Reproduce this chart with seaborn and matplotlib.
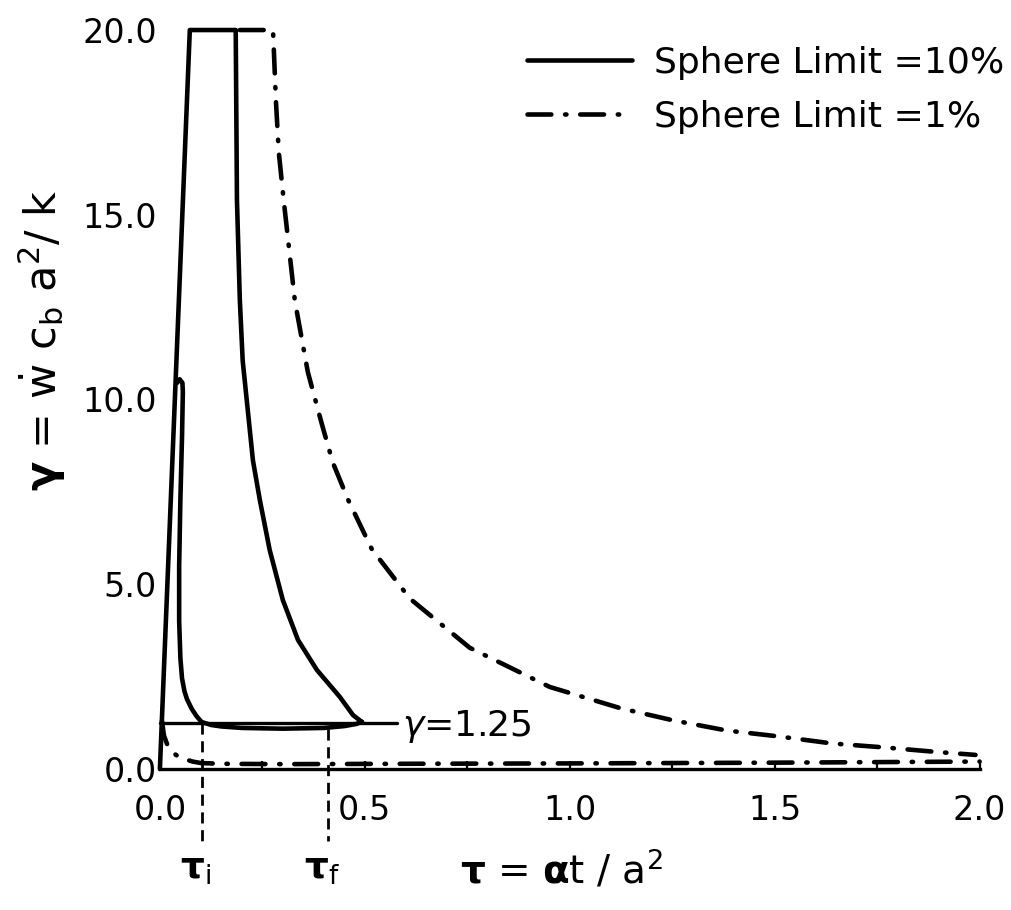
import matplotlib
matplotlib.use("Agg")
import matplotlib.pyplot as plt
import seaborn as sns

# ---- data -------------------------------------------------------------
# Sphere limit 10 %: outer branch (rise, capped at gamma = 20, decay to gamma = 1.25)
tau_10_outer = [0.0, 0.073, 0.185, 0.188, 0.195, 0.202, 0.212, 0.227, 0.244,
                0.268, 0.300, 0.337, 0.383, 0.439, 0.471, 0.493]
gam_10_outer = [0.0, 20.0, 20.0, 15.4, 12.7, 11.05, 9.97, 8.35, 7.27,
                5.92, 4.57, 3.49, 2.68, 1.95, 1.46, 1.27]

# Sphere limit 10 %: inner branch (spike near tau = 0.05, flat part near gamma = 1.1)
tau_10_inner = [0.042, 0.048, 0.055, 0.056, 0.054, 0.050, 0.047, 0.047, 0.050,
                0.054, 0.060, 0.066, 0.078, 0.090, 0.102, 0.125, 0.15, 0.20,
                0.30, 0.40, 0.45, 0.48, 0.493]
gam_10_inner = [10.45, 10.55, 10.45, 10.2, 9.0, 7.3, 5.5, 4.0, 3.0,
                2.45, 2.1, 1.89, 1.62, 1.42, 1.27, 1.19, 1.15, 1.11,
                1.09, 1.11, 1.16, 1.22, 1.28]

# Sphere limit 1 %: outer branch
tau_1_outer = [0.195, 0.276, 0.283, 0.290, 0.302, 0.329, 0.337, 0.361, 0.395,
               0.422, 0.459, 0.517, 0.610, 0.756, 0.951, 1.125, 1.25, 1.383,
               1.51, 1.64, 1.77, 1.895, 1.99]
gam_1_outer = [20.0, 20.0, 18.1, 16.7, 15.4, 12.7, 12.2, 10.74, 9.34,
               8.29, 7.29, 5.95, 4.61, 3.28, 2.22, 1.64, 1.32, 1.04,
               0.88, 0.69, 0.58, 0.46, 0.38]

# Sphere limit 1 %: inner branch (close to the tau axis)
tau_1_inner = [0.005, 0.01, 0.02, 0.03, 0.05, 0.08, 0.10, 0.15, 0.30, 0.60,
               1.00, 1.50, 2.00]
gam_1_inner = [1.30, 0.90, 0.60, 0.45, 0.30, 0.20, 0.16, 0.14, 0.13, 0.14,
               0.15, 0.17, 0.20]

# Reference level and characteristic times
gamma_ref = 1.25
tau_ref_end = 0.578
tau_marks = [0.102, 0.41]
tau_mark_top = [1.25, 1.08]
tau_mark_names = [r"$\mathbf{\tau}_{\mathrm{i}}$", r"$\mathbf{\tau}_{\mathrm{f}}$"]

x_ticks = [0.0, 0.5, 1.0, 1.5, 2.0]
x_minor = [0.25, 0.75, 1.25, 1.75]
y_ticks = [0.0, 5.0, 10.0, 15.0, 20.0]
legend_labels = ["Sphere Limit =10%", "Sphere Limit =1%"]

# ---- style ------------------------------------------------------------
sns.set_theme(style="ticks")
INK = "black"
plt.rcParams["font.family"] = ["DejaVu Sans"]
plt.rcParams["mathtext.fontset"] = "custom"
plt.rcParams["mathtext.rm"] = "DejaVu Sans"
plt.rcParams["mathtext.it"] = "DejaVu Sans:italic"
plt.rcParams["mathtext.bf"] = "DejaVu Sans:bold"
plt.rcParams["text.color"] = INK
plt.rcParams["axes.labelcolor"] = INK
plt.rcParams["xtick.color"] = INK
plt.rcParams["ytick.color"] = INK

LW = 3.3
DASHDOT = (0, (5.2, 3.0, 0.3, 3.0))

fig = plt.figure(figsize=(10.12, 9.10), dpi=100)
ax = fig.add_axes([0.158, 0.155, 0.810, 0.812])

solid_kw = dict(color=INK, linewidth=LW, sort=False, estimator=None, ax=ax,
                clip_on=False, solid_capstyle="round", solid_joinstyle="round")
dd_kw = dict(color=INK, linewidth=LW, sort=False, estimator=None, ax=ax,
             clip_on=False, linestyle=DASHDOT, dash_capstyle="round",
             dash_joinstyle="round")

sns.lineplot(x=tau_10_outer, y=gam_10_outer, label=legend_labels[0], **solid_kw)
sns.lineplot(x=tau_1_outer, y=gam_1_outer, label=legend_labels[1], **dd_kw)
sns.lineplot(x=tau_10_inner, y=gam_10_inner, legend=False, **solid_kw)
sns.lineplot(x=tau_1_inner, y=gam_1_inner, legend=False, **dd_kw)

# gamma = 1.25 reference line
ax.plot([0.0, tau_ref_end], [gamma_ref, gamma_ref], color=INK, lw=2.4,
        clip_on=False)
ax.text(tau_ref_end + 0.013, gamma_ref - 0.1, r"$\gamma$=1.25", fontsize=26,
        ha="left", va="center", color=INK)

# tau_i / tau_f markers
for t, top, name in zip(tau_marks, tau_mark_top, tau_mark_names):
    ax.plot([t, t], [top, -1.95], color=INK, lw=2.0, clip_on=False,
            linestyle=(0, (4.0, 2.4)))
    ax.text(t - 0.014, -2.7, name, fontsize=27, ha="center", va="center",
            color=INK)

# ---- axes -------------------------------------------------------------
ax.set_xlim(0, 2.0)
ax.set_ylim(0, 20.0)
ax.set_xticks(x_ticks)
ax.set_xticks(x_minor, minor=True)
ax.set_xticklabels([f"{v:.1f}" for v in x_ticks], fontsize=24)
ax.set_yticks(y_ticks)
ax.set_yticklabels([f"{v:.1f}" for v in y_ticks], fontsize=24)
ax.tick_params(axis="x", which="both", direction="in", length=6, width=1.6,
               pad=18, colors=INK)
ax.tick_params(axis="y", which="both", length=0, pad=2, colors=INK)

for side in ["top", "right", "left"]:
    ax.spines[side].set_visible(False)
ax.spines["bottom"].set_linewidth(2.4)
ax.spines["bottom"].set_color(INK)
ax.set_facecolor("white")

ax.set_xlabel(r"$\mathbf{\tau}$ = $\mathbf{\alpha}$t / a$^{2}$", fontsize=28,
              color=INK)
ax.xaxis.set_label_coords(0.49, -0.108)
ax.set_ylabel(r"$\mathbf{\gamma}$ = $\dot{\mathrm{w}}$ c$_{\mathrm{b}}$ a$^{2}$/ k",
              fontsize=31, color=INK)
ax.yaxis.set_label_coords(-0.112, 0.58)

handles, labels = ax.get_legend_handles_labels()
leg = ax.legend(handles[:2], labels[:2], loc="upper right",
                bbox_to_anchor=(1004 / 1012, 1 - 46 / 910),
                bbox_transform=fig.transFigure, frameon=False, fontsize=26,
                handlelength=2.9, handletextpad=0.6, labelspacing=0.55,
                borderpad=0, borderaxespad=0)
for txt in leg.get_texts():
    txt.set_color(INK)

fig.savefig("out.png", dpi=100, facecolor="white")
